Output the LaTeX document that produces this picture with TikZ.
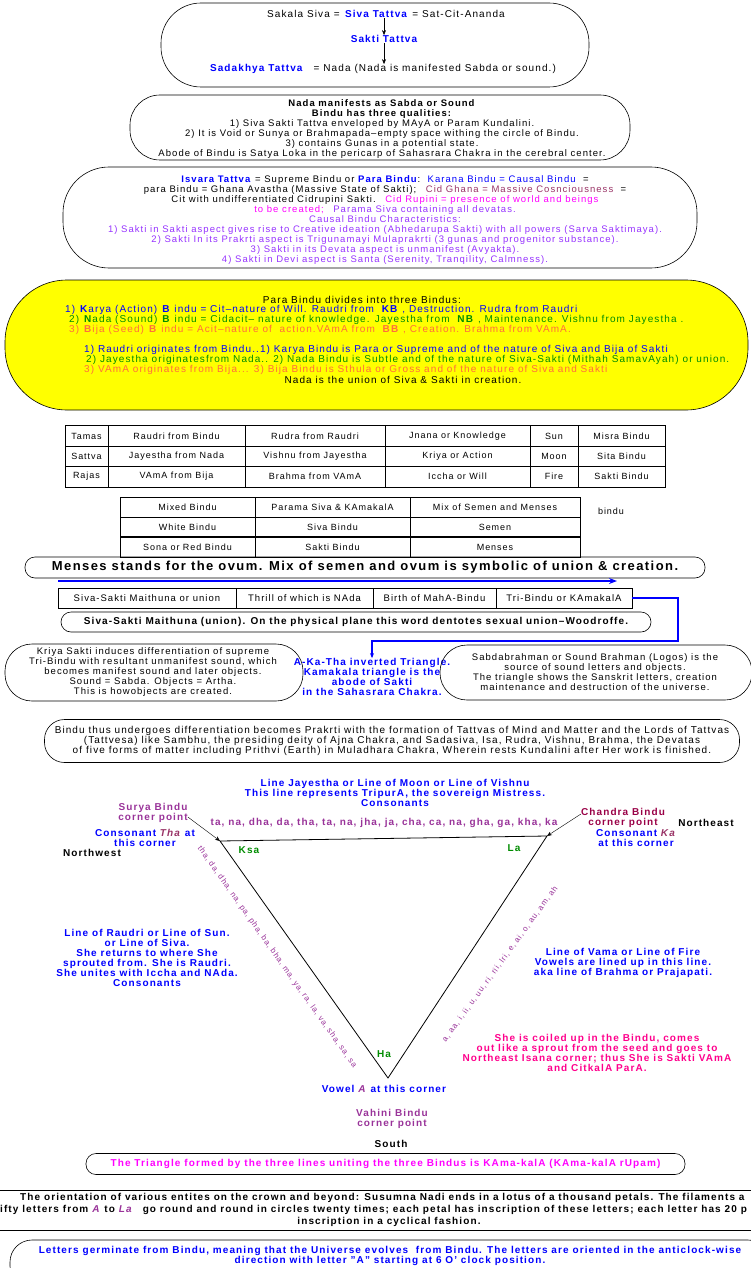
\documentclass[tikz,border=0pt]{standalone}
\usepackage{fontspec}
\setmainfont{Liberation Sans}[LetterSpace=11]
\usetikzlibrary{arrows.meta}

\definecolor{tblue}{RGB}{0,0,255}
\definecolor{tgreen}{RGB}{0,140,0}
\definecolor{torange}{RGB}{255,110,60}
\definecolor{tviolet}{RGB}{150,50,255}
\definecolor{tplum}{RGB}{153,51,102}
\definecolor{tmagenta}{RGB}{255,0,255}
\definecolor{tpink}{RGB}{255,0,140}
\definecolor{tpurple}{RGB}{153,51,153}
\definecolor{tmaroon}{RGB}{153,0,70}
\definecolor{tyellow}{RGB}{255,255,0}

\def \boxLine {0.6pt}

\tikzset{
  bubble/.style={draw, rounded corners=#1, line width=\boxLine},
  bubble/.default=20pt,
  note/.style={inner sep=0pt, align=center, font=\fontsize{9.5}{10}\selectfont},
  bignote/.style={inner sep=0pt, align=center, font=\fontsize{10}{10}\selectfont},
  boldnote/.style={note, font=\fontsize{10}{10}\selectfont\bfseries},
  cell/.style={inner sep=0pt, font=\fontsize{9}{10}\selectfont},
  tableline/.style={line width=\boxLine},
  letters/.style={inner sep=0pt, font=\fontsize{8}{10}\selectfont, text=tpurple},
  bluelink/.style={draw=tblue, line width=2pt},
}

\begin{document}
\begin{tikzpicture}[x=1pt, y=-1pt, >={Stealth[length=5pt,width=4pt]}]
         \useasboundingbox (0,0) rectangle (750,1268);

         \node[bubble=40pt, minimum width=428pt, minimum height=84pt] (sivabox) at (375,45) {};
         \node[boldnote, text=tblue] (sivatattva) at (376,14) {Siva Tattva};
         \node[bignote, anchor=base east] (sakala) at ([xshift=-5pt]sivatattva.base west) {Sakala Siva =};
         \node[bignote, anchor=base west] (satcit) at ([xshift=5pt]sivatattva.base east) {= Sat-Cit-Ananda};
         \node[boldnote, text=tblue] (saktitattva) at (384,39) {Sakti Tattva};
         \node[bignote] (nadaline) at (383,69) {\textcolor{tblue}{\textbf{Sadakhya Tattva}}\quad = Nada (Nada is manifested Sabda or sound.)};
         \draw[->] (saktitattva.north |- sivatattva.south) -- (saktitattva.north);
         \draw[->] (saktitattva.south) -- (saktitattva.south |- nadaline.north);

         \node[bubble=30pt, minimum width=500pt, minimum height=65pt] (nadabox) at (380,127.5) {};
         \node[note] (nadatext) at (382,129.5) {\textbf{Nada manifests as Sabda or Sound}\\
            \textbf{Bindu has three qualities:}\\
            1) Siva Sakti Tattva enveloped by MAyA or Param Kundalini.\\
            2) It is Void or Sunya or Brahmapada--empty space withing the circle of Bindu.\\
            3) contains Gunas in a potential state.\\
            Abode of Bindu is Satya Loka in the pericarp of Sahasrara Chakra in the cerebral center.};

         \node[bubble=46pt, minimum width=634pt, minimum height=101pt] (isvarabox) at (380,217.5) {};
         \node[note] (isvaratext) at (385,220) {\textcolor{tblue}{\textbf{Isvara Tattva}} = Supreme Bindu or \textcolor{tblue}{\textbf{Para Bindu}}:\ \ \textcolor{tblue}{Karana Bindu = Causal Bindu}\ \ =\\
            para Bindu = Ghana Avastha (Massive State of Sakti);\quad \textcolor{tplum}{Cid Ghana = Massive Cosnciousness}\ \ =\\
            Cit with undifferentiated Cidrupini Sakti.\quad \textcolor{tmagenta}{Cid Rupini = presence of world and beings}\\
            \textcolor{tmagenta}{to be created;}\quad \textcolor{tviolet}{Parama Siva containing all devatas.}\\
            \textcolor{tviolet}{Causal Bindu Characteristics:}\\
            \textcolor{tviolet}{1) Sakti in Sakti aspect gives rise to Creative ideation (Abhedarupa Sakti) with all powers (Sarva Saktimaya).}\\
            \textcolor{tviolet}{2) Sakti In its Prakrti aspect is Trigunamayi Mulaprakrti (3 gunas and progenitor substance).}\\
            \textcolor{tviolet}{3) Sakti in its Devata aspect is unmanifest (Avyakta).}\\
            \textcolor{tviolet}{4) Sakti in Devi aspect is Santa (Serenity, Tranqility, Calmness).}};

         \node[bubble=62pt, fill=tyellow, minimum width=743pt, minimum height=130pt] (parabox) at (376.5,345) {};
         \node[bignote] (paratitle) at (362,300) {Para Bindu divides into three Bindus:};
         \node[bignote, anchor=west, text=tblue] (karya) at (65,310) {1) \textbf{K}arya (Action) \textbf{B} indu = Cit--nature of Will. Raudri from \ \textbf{KB} , Destruction. Rudra from Raudri};
         \node[bignote, anchor=west, text=tgreen] (nadab) at (69,320) {2) \textbf{N}ada (Sound) \textbf{B} indu = Cidacit-- nature of knowledge. Jayestha from \ \textbf{NB} , Maintenance. Vishnu from Jayestha .};
         \node[bignote, anchor=west, text=torange] (bija) at (69,330) {3) \textbf{B}ija (Seed) \textbf{B} indu = Acit--nature of \ action.VAmA from \ \textbf{BB} , Creation. Brahma from VAmA.};
         \node[bignote, anchor=west, text=tblue] (raudri) at (84,350) {1) Raudri originates from Bindu..1) Karya Bindu is Para or Supreme and of the nature of Siva and Bija of Sakti};
         \node[bignote, anchor=west, text=tgreen] (jayestha) at (86,360) {2) Jayestha originatesfrom Nada.. 2) Nada Bindu is Subtle and of the nature of Siva-Sakti (Mithah SamavAyah) or union.};
         \node[bignote, anchor=west, text=torange] (vama) at (84,370) {3) VAmA originates from Bija... 3) Bija Bindu is Sthula or Gross and of the nature of Siva and Sakti};
         \node[bignote] (union) at (403,380) {Nada is the union of Siva \& Sakti in creation.};

         \draw[tableline] (65,425) rectangle (665,487);
         \foreach \y in {446,466} \draw[tableline] (65,\y) -- (665,\y);
         \foreach \x in {108,245,385,530,578} \draw[tableline] (\x,425) -- (\x,487);
         \foreach \y/\ca/\cb/\cc/\cd/\ce/\cf in {436/Tamas/Raudri from Bindu/Rudra from Raudri/Jnana or Knowledge/Sun/Misra Bindu,
               456/Sattva/Jayestha from Nada/Vishnu from Jayestha/Kriya or Action/Moon/Sita Bindu,
               476/Rajas/VAmA from Bija/Brahma from VAmA/Iccha or Will/Fire/Sakti Bindu} {
            \node[cell] (guna\y) at (86.5,\y) {\ca};
            \node[cell] (origin\y) at (176.5,\y) {\cb};
            \node[cell] (deity\y) at (315,\y) {\cc};
            \node[cell] (sakti\y) at (457.5,\y) {\cd};
            \node[cell] (light\y) at (554,\y) {\ce};
            \node[cell] (bindu\y) at (621.5,\y) {\cf};
         }

         \draw[tableline] (120,497) rectangle (580,557);
         \draw[tableline] (120,517) -- (580,517);
         \draw[line width=1.3pt] (120,537) -- (580,537);
         \foreach \x in {255,410} \draw[tableline] (\x,497) -- (\x,557);
         \foreach \y/\ca/\cb/\cc in {507/Mixed Bindu/Parama Siva \& KAmakalA/Mix of Semen and Menses,
               527/White Bindu/Siva Bindu/Semen,
               547/Sona or Red Bindu/Sakti Bindu/Menses} {
            \node[cell] (kind\y) at (187.5,\y) {\ca};
            \node[cell] (form\y) at (332.5,\y) {\cb};
            \node[cell] (fluid\y) at (495,\y) {\cc};
         }
         \node[cell] (binduword) at (611,511) {bindu};

         \node[bubble=10pt, minimum width=680pt, minimum height=21pt, font=\fontsize{13}{14}\selectfont\bfseries] (menses) at (365,567.5) {Menses stands for the ovum. Mix of semen and ovum is symbolic of union \& creation.};

         \coordinate (flowstart) at (58,581);
         \coordinate (flowend) at (617,581);
         \draw[bluelink, -{Stealth[length=8pt,width=6pt]}] (flowstart) -- (flowend);

         \node[draw, tableline, cell, font=\fontsize{9.5}{10}\selectfont, minimum width=178pt, minimum height=20pt] (maithuna) at (147,598) {Siva-Sakti Maithuna or union};
         \node[draw, tableline, cell, font=\fontsize{9.5}{10}\selectfont, minimum width=137pt, minimum height=20pt] (thrill) at (304.5,598) {Thrill of which is NAda};
         \node[draw, tableline, cell, font=\fontsize{9.5}{10}\selectfont, minimum width=123pt, minimum height=20pt] (mahabindu) at (434.5,598) {Birth of MahA-Bindu};
         \node[draw, tableline, cell, font=\fontsize{9.5}{10}\selectfont, minimum width=136pt, minimum height=20pt] (tribindu) at (564,598) {Tri-Bindu or KAmakalA};

         \node[bubble=10pt, minimum width=590pt, minimum height=20pt, font=\fontsize{10}{10}\selectfont\bfseries] (woodroffe) at (356,622) {Siva-Sakti Maithuna (union). On the physical plane this word dentotes sexual union--Woodroffe.};

         \node[boldnote, text=tblue] (akatha) at (372,677) {A-Ka-Tha inverted Triangle.\\Kamakala triangle is the\\abode of Sakti\\in the Sahasrara Chakra.};
         \coordinate (bend) at (678,641);
         \draw[draw=tblue, line width=1.5pt, ->] (tribindu.east) -| (bend) -| (akatha.north);

         \node[bubble=27pt, minimum width=298pt, minimum height=57pt] (kriyabox) at (154,672.5) {};
         \node[note] (kriyatext) at (153,672.5) {Kriya Sakti induces differentiation of supreme\\Tri-Bindu with resultant unmanifest sound, which\\becomes manifest sound and later objects.\\Sound = Sabda. Objects = Artha.\\This is howobjects are created.};
         \node[bubble=27pt, minimum width=312pt, minimum height=55pt] (sabdabox) at (596,672.5) {};
         \node[note] (sabdatext) at (595,672) {Sabdabrahman or Sound Brahman (Logos) is the\\source of sound letters and objects.\\The triangle shows the Sanskrit letters, creation\\maintenance and destruction of the universe.};

         \node[bubble=20pt, minimum width=695pt, minimum height=43pt] (prakrtibox) at (392,741) {};
         \node[bignote] (prakrtitext) at (392,741) {Bindu thus undergoes differentiation becomes Prakrti with the formation of Tattvas of Mind and Matter and the Lords of Tattvas\\(Tattvesa) like Sambhu, the presiding deity of Ajna Chakra, and Sadasiva, Isa, Rudra, Vishnu, Brahma, the Devatas\\of five forms of matter including Prithvi (Earth) in Muladhara Chakra, Wherein rests Kundalini after Her work is finished.};

         \coordinate (nw) at (220,841);
         \coordinate (ne) at (547,836);
         \coordinate (s) at (388,1078);
         \draw[line width=0.8pt] (nw) -- (ne) -- (s) -- cycle;

         \node[boldnote, text=tblue] (jayesthaline) at (395,793) {Line Jayestha or Line of Moon or Line of Vishnu\\This line represents TripurA, the sovereign Mistress.\\Consonants};
         \node[boldnote, text=tpurple] (topletters) at (384,823) {ta, na, dha, da, tha, ta, na, jha, ja, cha, ca, na, gha, ga, kha, ka};
         \node[boldnote, text=tpurple] (surya) at (153,813) {Surya Bindu\\corner point};
         \draw[->] ([yshift=-4pt]surya.east) -- (nw);
         \node[boldnote, text=tblue] (thacorner) at (145,838) {Consonant \textcolor{tplum}{\textit{Tha}} at\\this corner};
         \node[boldnote] (northwest) at (92,853) {Northwest};
         \node[boldnote, text=tmaroon] (chandra) at (623,818) {Chandra Bindu\\corner point};
         \draw[->] ([yshift=4pt]chandra.west) -- (ne);
         \node[boldnote] (northeast) at (706,823) {Northeast};
         \node[boldnote, text=tblue] (kacorner) at (636,838) {Consonant \textcolor{tplum}{\textit{Ka}}\\at this corner};
         \node[boldnote, text=tgreen] (ksa) at (249,850) {Ksa};
         \node[boldnote, text=tgreen] (la) at (514,848) {La};
         \node[boldnote, text=tgreen] (ha) at (384,1054) {Ha};

         \node[letters, rotate=-54.7] (leftletters) at (277,957) {tha, da, dha, na, pa, pha, ba, bha, ma, ya, ra, la, va, sha, sa, sa};
         \node[letters, rotate=54] (rightletters) at (500,964) {a, aa, i, ii, u, uu, ri, rii, lri, e, ai, o, au, am, ah};

         \node[boldnote, text=tblue] (raudriline) at (147,958) {Line of Raudri or Line of Sun.\\or Line of Siva.\\She returns to where She\\sprouted from. She is Raudri.\\She unites with Iccha and NAda.\\Consonants};
         \node[boldnote, text=tblue] (vamaline) at (623,963) {Line of Vama or Line of Fire\\Vowels are lined up in this line.\\aka line of Brahma or Prajapati.};
         \node[boldnote, text=tpink] (coiled) at (597,1053) {She is coiled up in the Bindu, comes\\out like a sprout from the seed and goes to\\Northeast Isana corner; thus She is Sakti VAmA\\and CitkalA ParA.};

         \node[boldnote, text=tblue] (vowel) at (384,1089) {Vowel \textcolor{tpurple}{\textit{A}} at this corner};
         \node[boldnote, text=tpurple] (vahini) at (392,1119) {Vahini Bindu\\corner point};
         \node[boldnote] (south) at (391,1144) {South};

         \node[bubble=10pt, minimum width=599pt, minimum height=21pt, boldnote, text=tmagenta] (kamakala) at (385.5,1164) {The Triangle formed by the three lines uniting the three Bindus is KAma-kalA (KAma-kalA rUpam)};

         \node[draw, line width=\boxLine, minimum width=756pt, minimum height=40pt] (orientbox) at (375,1210) {};
         \node[boldnote, anchor=west] (orient1) at (20,1198) {The orientation of various entites on the crown and beyond: Susumna Nadi ends in a lotus of a thousand petals. The filaments a};
         \node[boldnote, anchor=west] (orient2) at (0,1210) {ifty letters from \textcolor{tpurple}{\textit{A}} to \textcolor{tpurple}{\textit{La}}\quad go round and round in circles twenty times; each petal has inscription of these letters; each letter has 20 p};
         \node[boldnote] (orient3) at (389,1222) {inscription in a cyclical fashion.};

         \node[bubble=22pt, minimum width=760pt, minimum height=48pt] (germbox) at (390,1264) {};
         \node[boldnote, text=tblue] (germtext) at (390,1255.5) {Letters germinate from Bindu, meaning that the Universe evolves \ from Bindu. The letters are oriented in the anticlock-wise\\direction with letter "A" starting at 6 O' clock position.};
      \end{tikzpicture}
\end{document}
